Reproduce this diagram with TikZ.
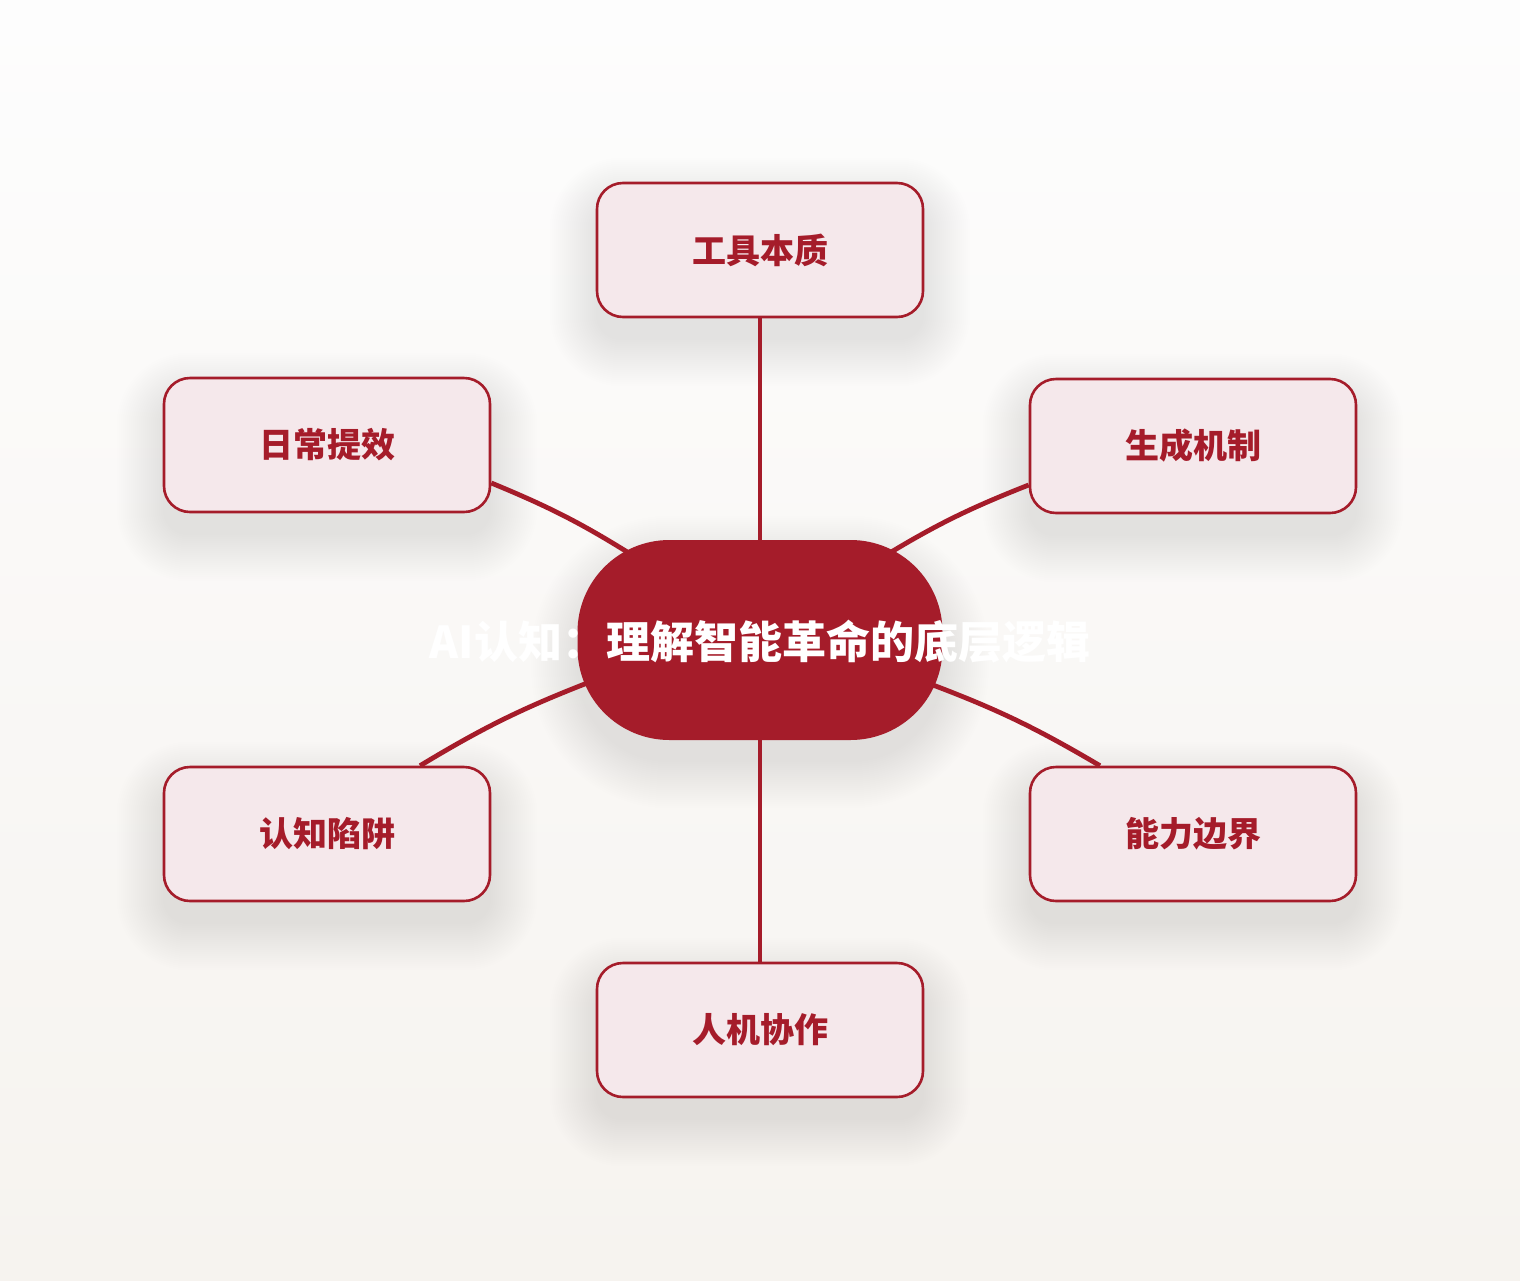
\documentclass[tikz,border=0pt]{standalone}
\usepackage{fontspec}
\newfontfamily\cjk{Noto Sans CJK SC}
\definecolor{mainred}{HTML}{A51C2A}
\definecolor{boxfill}{HTML}{F5E8EB}
\definecolor{bgtop}{HTML}{FDFDFD}
\definecolor{bgbot}{HTML}{F6F3EF}
\pgfdeclarelayer{bg}
\pgfdeclarelayer{shadow}
\pgfdeclarelayer{links}
\pgfsetlayers{bg,shadow,links,main}
\tikzset{
  leaf/.style={draw=mainred, line width=2.6pt, fill=boxfill, rounded corners=26pt,
    minimum width=326pt, minimum height=134pt, inner sep=0pt, text=mainred,
    font=\cjk\bfseries\fontsize{34}{40}\selectfont},
  hub/.style={fill=mainred, rounded corners=92pt, minimum width=365pt,
    minimum height=200pt, inner sep=0pt},
  hubtext/.style={text=white, font=\cjk\bfseries\fontsize{44}{50}\selectfont, inner sep=0pt},
  link/.style={draw=mainred, line width=4.8pt},
  shadowlayer/.style={fill=black, opacity=0.0055}
}
\begin{document}
\begin{tikzpicture}[x=1pt,y=1pt]
\useasboundingbox (0,0) rectangle (1520,-1280);
\begin{pgfonlayer}{bg}
\shade[top color=bgtop, bottom color=bgbot] (0,0) rectangle (1520,-1280);
\end{pgfonlayer}

\node[hub] (hub) at (760,-640) {};
\node[hubtext] (title) at (760,-642) {AI认知：理解智能革命的底层逻辑};

\node[leaf] (tool) at (760,-250) {工具本质};
\node[leaf] (daily) at (327,-445) {日常提效};
\node[leaf] (gen) at (1193,-446) {生成机制};
\node[leaf] (trap) at (327,-834) {认知陷阱};
\node[leaf] (limit) at (1193,-834) {能力边界};
\node[leaf] (collab) at (760,-1030) {人机协作};

\begin{pgfonlayer}{shadow}
\foreach \n/\r in {tool/26,daily/26,gen/26,trap/26,limit/26,collab/26,hub/92}{
  \foreach \i in {0,...,23}{
    \pgfmathsetmacro{\d}{2*\i}
    \pgfmathsetmacro{\rr}{\r+\d}
    \fill[shadowlayer, rounded corners=\rr pt]
      ([shift={(-\d pt,-22pt-\d pt)}]\n.south west) rectangle
      ([shift={(\d pt,-22pt+\d pt)}]\n.north east);
  }
}
\end{pgfonlayer}

\begin{pgfonlayer}{links}
\draw[link] (tool.south) -- (hub.north);
\draw[link] (collab.north) -- (hub.south);
\draw[link] ([yshift=-38pt]daily.east) to[bend left=5] ([xshift=-120pt,yshift=80pt]hub.center);
\draw[link] ([yshift=-39pt]gen.west) to[bend right=5] ([xshift=118pt,yshift=80pt]hub.center);
\draw[link] ([xshift=93pt]trap.north) to[bend left=5] ([xshift=-165pt,yshift=-40pt]hub.center);
\draw[link] ([xshift=-93pt]limit.north) to[bend right=5] ([xshift=165pt,yshift=-42pt]hub.center);
\end{pgfonlayer}
\end{tikzpicture}
\end{document}
